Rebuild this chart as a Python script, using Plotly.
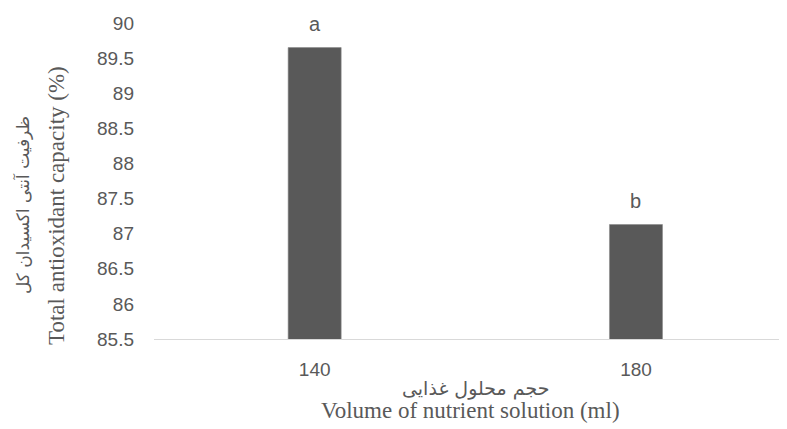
import plotly.graph_objects as go

categories = ["140", "180"]
values = [89.65, 87.13]
letters = ["a", "b"]
y_ticks = [85.5, 86, 86.5, 87, 87.5, 88, 88.5, 89, 89.5, 90]
y_tick_labels = ["85.5", "86", "86.5", "87", "87.5", "88", "88.5", "89", "89.5", "90"]
x_title_fa = "حجم محلول غذایی"
x_title_en = "Volume of nutrient solution (ml)"
y_title_fa = "ظرفیت آنتی اکسیدان کل"
y_title_en = "Total antioxidant capacity (%)"

OFF = 8  # page body margin
W, H = 787 - OFF, 429 - OFF
L, R, T, B = 154 - OFF, 0, 23 - OFF, 90
pw, ph = W - L - R, H - T - B
grey = "#595959"

def px(x):
    return (x - OFF - L) / pw

def py(y):
    return (H - B - (y - OFF)) / ph

fig = go.Figure()
fig.add_trace(go.Bar(
    x=categories, y=values, width=0.165,
    marker=dict(color=grey, line=dict(color="#8a8a8a", width=0.6)),
))

annotations = []
for i, (v, l) in enumerate(zip(values, letters)):
    annotations.append(dict(x=i, y=v, xref="x", yref="y", text=l, showarrow=False,
                            yshift=24, font=dict(family="Liberation Sans", size=20, color=grey)))

annotations += [
    dict(x=px(475), y=py(388), xref="paper", yref="paper", text=x_title_fa, showarrow=False,
         xanchor="center", yanchor="middle", font=dict(family="DejaVu Sans", size=19, color=grey)),
    dict(x=px(470), y=py(410), xref="paper", yref="paper", text=x_title_en, showarrow=False,
         xanchor="center", yanchor="middle", font=dict(family="Liberation Serif", size=23, color=grey)),
    dict(x=px(22), y=py(205), xref="paper", yref="paper", text=y_title_fa, showarrow=False,
         textangle=-90, xanchor="center", yanchor="middle", font=dict(family="DejaVu Sans", size=17, color=grey)),
    dict(x=px(56), y=py(206), xref="paper", yref="paper", text=y_title_en, showarrow=False,
         textangle=-90, xanchor="center", yanchor="middle", font=dict(family="Liberation Serif", size=23, color=grey)),
]

fig.update_layout(
    width=W, height=H,
    margin=dict(l=L, r=R, t=T, b=B),
    paper_bgcolor="white", plot_bgcolor="white",
    showlegend=False,
    annotations=annotations,
    xaxis=dict(type="category", range=[-0.5, 1.47], showgrid=False, showline=True,
               linecolor="#d9d9d9", linewidth=1, ticks="", ticklabelstandoff=13,
               tickfont=dict(family="Liberation Sans", size=19, color=grey)),
    yaxis=dict(range=[85.5, 90], tickvals=y_ticks, ticktext=y_tick_labels, showgrid=False,
               showline=False, zeroline=False, ticks="", ticklabelstandoff=19,
               tickfont=dict(family="Liberation Sans", size=19, color=grey)),
)

fig.write_html("out.html")
